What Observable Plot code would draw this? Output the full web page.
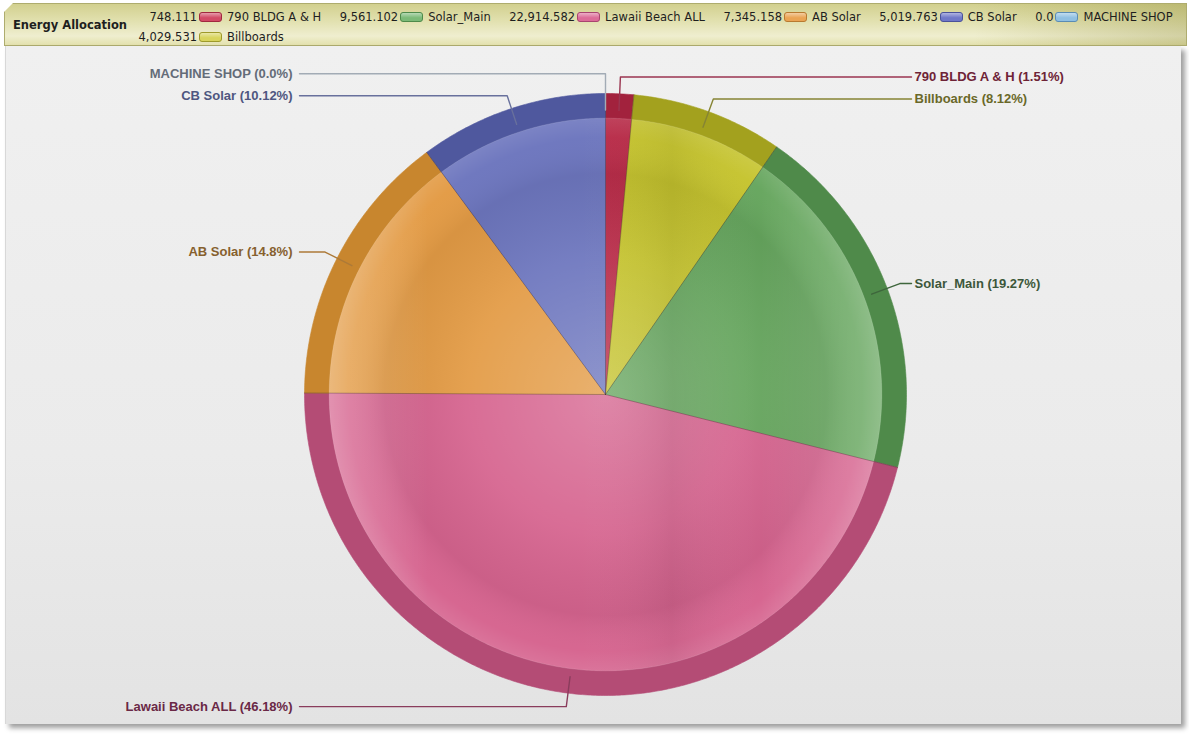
<!DOCTYPE html>
<html>
<head>
<meta charset="utf-8">
<script src="https://cdn.jsdelivr.net/npm/d3@7"></script>
<script src="https://cdn.jsdelivr.net/npm/@observablehq/plot@0.6"></script>
<style>
  html, body { margin: 0; padding: 0; background: #ffffff; width: 1189px; height: 737px; overflow: hidden; }
  #hdr {
    position: absolute; left: 4px; top: 3px; width: 1181px; height: 41px;
    border: 1px solid #aeac6e;
    background:
      linear-gradient(to right, rgba(0,0,0,0) 82%, rgba(110,105,10,0.22) 100%),
      linear-gradient(to bottom, #d2d08f 0%, #e1e0ae 40%, #efeecf 78%, #e3e1ad 100%);
    clip-path: polygon(9px 0, 100% 0, 100% 100%, 0 100%, 0 9px);
    font-family: "DejaVu Sans", Verdana, sans-serif;
    color: #1e1e1e;
  }
  #title { position: absolute; left: 8px; top: 14px; font-weight: bold; font-size: 11.5px; }
  #legend {
    position: absolute; left: 115px; top: 3px;
    display: grid; grid-template-columns: repeat(6, auto auto auto);
    grid-auto-rows: 20px; align-items: center; font-size: 11.5px;
  }
  #legend .val { text-align: right; padding-left: 18.5px; padding-right: 2px; }
  #legend .sw { width: 21px; height: 8px; border-radius: 3px; border: 1px solid; box-sizing: content-box; }
  #legend .nm { padding-left: 5px; white-space: nowrap; }
  #panel {
    position: absolute; left: 5px; top: 46px; width: 1175px; height: 678px;
    background: linear-gradient(to bottom, #f0f0f0 0%, #ebebeb 60%, #e3e3e3 100%);
    box-shadow: 4px 4px 5px rgba(0,0,0,0.38);
    border-left: 1px solid #d8d8d8;
  }
  #panel svg { position: absolute; left: 0; top: 0; }
</style>
</head>
<body>
<div id="hdr"><div id="title">Energy Allocation</div><div id="legend"></div></div>
<div id="panel"></div>
<script>
// ---------------- data ----------------
const pieCategories = ["790 BLDG A & H", "Billboards", "Solar_Main", "Lawaii Beach ALL", "AB Solar", "CB Solar", "MACHINE SHOP"];
const pieValues = [748.111, 4029.531, 9561.102, 22914.582, 7345.158, 5019.763, 0.0];
const legendCategories = ["790 BLDG A & H", "Solar_Main", "Lawaii Beach ALL", "AB Solar", "CB Solar", "MACHINE SHOP", "Billboards"];
const chartTitle = "Energy Allocation";

// ---------------- styles ----------------
const palette = {
  "790 BLDG A & H":   {main: "#b92b48", rim: "#a2223d", sw: "#d24a66", swb: "#a0283f", text: "#6e2336", line: "#9a3550"},
  "Billboards":       {main: "#c6c42e", rim: "#a3a11e", sw: "#d8d45c", swb: "#9e9a2a", text: "#6a6828", line: "#868434"},
  "Solar_Main":       {main: "#66a65e", rim: "#4f8a4a", sw: "#7cba78", swb: "#4e8a4a", text: "#3c573a", line: "#3e663c"},
  "Lawaii Beach ALL": {main: "#d6648f", rim: "#b44c75", sw: "#dc6c98", swb: "#a84470", text: "#6a2846", line: "#8a3c5c"},
  "AB Solar":         {main: "#e39b45", rim: "#c8862e", sw: "#eaa454", swb: "#b87a30", text: "#86602e", line: "#ad7a38"},
  "CB Solar":         {main: "#6d76be", rim: "#4f589e", sw: "#7078c8", swb: "#4a529a", text: "#4e5680", line: "#68709c"},
  "MACHINE SHOP":     {main: "#8fbde0", rim: "#6fa0c8", sw: "#90c0e2", swb: "#5a8cb4", text: "#646c78", line: "#a2abb5"}
};

// ---------------- legend (HTML) ----------------
const fmtVal = v => v === 0 ? "0.0" : d3.format(",")(v);
const valueOf = name => pieValues[pieCategories.indexOf(name)];
d3.select("#title").text(chartTitle);
const leg = d3.select("#legend");
legendCategories.forEach(name => {
  const c = palette[name];
  leg.append("div").attr("class", "val").text(fmtVal(valueOf(name)));
  leg.append("div").attr("class", "sw")
    .style("border-color", c.swb)
    .style("background", `linear-gradient(to bottom, rgba(255,255,255,0.45), rgba(255,255,255,0) 60%), ${c.sw}`);
  leg.append("div").attr("class", "nm").text(name);
});

// ---------------- pie geometry ----------------
const W = 1175, H = 678, cx = 599, cy = 348, R = 301;
const total = d3.sum(pieValues);
const arcs = d3.pie().sort(null).value(d => d.value)(pieCategories.map((name, i) => ({name, value: pieValues[i]})));

const pctText = v => { const p = Math.round(v / total * 10000) / 100; return Number.isInteger(p) ? p.toFixed(1) : String(p); };

function sector(a0, a1, r, key, fill) {
  const pts = [{key, fill, x: 0, y: 0}];
  const n = Math.max(2, Math.ceil((a1 - a0) / (Math.PI / 360)));
  for (let k = 0; k <= n; k++) {
    const a = a0 + (a1 - a0) * k / n;
    pts.push({key, fill, x: r * Math.sin(a), y: r * Math.cos(a)});
  }
  pts.push({key, fill, x: 0, y: 0});
  return pts;
}
function ring(r, key) {
  const pts = [];
  for (let k = 0; k <= 720; k++) { const a = 2 * Math.PI * k / 720; pts.push({key, x: r * Math.sin(a), y: r * Math.cos(a)}); }
  return pts;
}

const rInner = 0.918;
const outerPts = [], innerPts = [], borderPts = [];
arcs.forEach(a => {
  if (a.data.value <= 0) return;
  const c = palette[a.data.name];
  outerPts.push(...sector(a.startAngle, a.endAngle, 1, a.data.name, c.rim));
  innerPts.push(...sector(a.startAngle, a.endAngle, rInner, a.data.name, c.main));
  borderPts.push({key: a.data.name, x: 0, y: 0}, {key: a.data.name, x: Math.sin(a.startAngle), y: Math.cos(a.startAngle)});
});
const discPts = ring(rInner, "disc");

// ---------------- labels ----------------
const rEnd = 0.945, rElbow = 1.045, gap = 22 / R;
const labels = arcs.map(a => {
  const mid = (a.startAngle + a.endAngle) / 2;
  const s = Math.sin(mid);
  const side = s > 1e-9 ? 1 : -1;
  return {
    name: a.data.name, mid, side,
    ex: rEnd * Math.sin(mid), ey: rEnd * Math.cos(mid),
    bx: rElbow * Math.sin(mid), ly: rElbow * Math.cos(mid),
    label: `${a.data.name} (${pctText(a.data.value)}%)`,
    color: palette[a.data.name].text, line: palette[a.data.name].line
  };
});
[-1, 1].forEach(side => {
  const grp = labels.filter(d => d.side === side).sort((a, b) => b.ly - a.ly);
  for (let i = grp.length - 2; i >= 0; i--) {
    if (grp[i].ly < grp[i + 1].ly + gap) grp[i].ly = grp[i + 1].ly + gap;
  }
});
const lineEndX = 306 / R;
const leaderPts = [];
labels.forEach(d => {
  leaderPts.push({key: d.name, stroke: d.line, x: d.ex, y: d.ey});
  leaderPts.push({key: d.name, stroke: d.line, x: d.bx, y: d.ly});
  leaderPts.push({key: d.name, stroke: d.line, x: d.side * lineEndX, y: d.ly});
});

// ---------------- plot ----------------
const chart = Plot.plot({
  width: W, height: H, margin: 0,
  x: {domain: [-cx / R, (W - cx) / R], axis: null},
  y: {domain: [-(H - cy) / R, cy / R], axis: null},
  color: {type: "identity"},
  style: {background: "transparent", overflow: "visible"},
  marks: [
    Plot.line(outerPts, {x: "x", y: "y", z: "key", fill: "fill", stroke: "fill", strokeWidth: 0.6, curve: "linear"}),
    Plot.line(innerPts, {x: "x", y: "y", z: "key", fill: "fill", stroke: "none", curve: "linear"}),
    Plot.line(discPts, {x: "x", y: "y", z: "key", fill: "url(#glossR)", stroke: "rgba(255,255,255,0.12)", strokeWidth: 1, curve: "linear"}),
    Plot.line(discPts, {x: "x", y: "y", z: "key", fill: "url(#glossH)", stroke: "none", curve: "linear"}),
    Plot.line(borderPts, {x: "x", y: "y", z: "key", stroke: "rgba(70,50,50,0.45)", strokeWidth: 0.8}),
    Plot.line(leaderPts, {x: "x", y: "y", z: "key", stroke: "stroke", strokeWidth: 1.4, curve: "linear"}),
    Plot.text(labels.filter(d => d.side < 0), {x: -313 / R, y: "ly", text: "label", fill: "color", textAnchor: "end",
      fontSize: 13, fontWeight: "bold", fontFamily: "'Liberation Sans', Arial, sans-serif"}),
    Plot.text(labels.filter(d => d.side > 0), {x: 309 / R, y: "ly", text: "label", fill: "color", textAnchor: "start",
      fontSize: 13, fontWeight: "bold", fontFamily: "'Liberation Sans', Arial, sans-serif"})
  ]
});

const defs = d3.select(chart).insert("defs", ":first-child");
const rg = defs.append("radialGradient").attr("id", "glossR").attr("cx", "50%").attr("cy", "50%").attr("r", "50%");
[[0, "#ffffff", 0.22], [0.5, "#ffffff", 0.06], [0.8, "#000000", 0.05], [0.93, "#ffffff", 0.02], [1, "#ffffff", 0.1]]
  .forEach(([o, c, a]) => rg.append("stop").attr("offset", o).attr("stop-color", c).attr("stop-opacity", a));
const lg = defs.append("linearGradient").attr("id", "glossH").attr("x1", 0).attr("x2", 1).attr("y1", 0).attr("y2", 0);
[[0, "#ffffff", 0.22], [0.18, "#ffffff", 0.0], [0.45, "#ffffff", 0.0], [0.62, "#000000", 0.05], [0.78, "#ffffff", 0.0], [1, "#ffffff", 0.2]]
  .forEach(([o, c, a]) => lg.append("stop").attr("offset", o).attr("stop-color", c).attr("stop-opacity", a));

document.getElementById("panel").appendChild(chart);
</script>
</body>
</html>
